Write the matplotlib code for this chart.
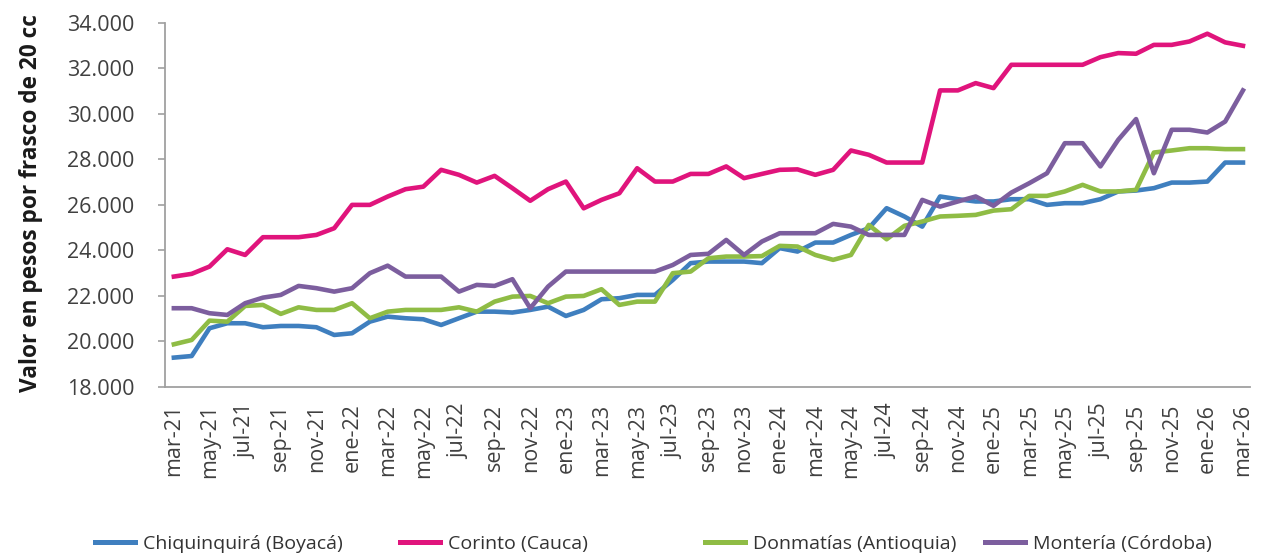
import matplotlib
matplotlib.use("Agg")
import matplotlib.pyplot as plt
from matplotlib.lines import Line2D
from matplotlib.ticker import FuncFormatter

plt.rcParams['font.family'] = ['Open Sans', 'DejaVu Sans']

# meses de mar-21 a mar-26
meses = ['ene', 'feb', 'mar', 'abr', 'may', 'jun', 'jul', 'ago', 'sep', 'oct', 'nov', 'dic']
fechas = []
for k in range(61):
    m = (2 + k) % 12
    a = 21 + (2 + k) // 12
    fechas.append(f'{meses[m]}-{a}')

chiquinquira = [19290, 19360, 20580, 20800, 20800, 20625, 20680, 20680, 20625, 20285,
                20360, 20870, 21090, 21020, 20975, 20725, 21020, 21310, 21310, 21270,
                21385, 21530, 21120, 21385, 21855, 21900, 22045, 22045, 22700, 23440,
                23510, 23510, 23510, 23440, 24100, 23950, 24345, 24345, 24680, 24975,
                25855, 25490, 25045, 26370, 26250, 26150, 26150, 26250, 26250, 26000,
                26075, 26075, 26250, 26590, 26630, 26735, 26980, 26980, 27025, 27860,
                27860]

corinto = [22850, 22970, 23290, 24050, 23800, 24580, 24580, 24580, 24680, 24975,
           26000, 26000, 26366, 26690, 26800, 27540, 27320, 26980, 27275, 26735,
           26180, 26690, 27025, 25850, 26220, 26510, 27610, 27025, 27025, 27360,
           27360, 27690, 27175, 27360, 27540, 27560, 27320, 27540, 28390, 28200,
           27860, 27860, 27860, 31030, 31030, 31350, 31130, 32155, 32155, 32155,
           32155, 32155, 32490, 32670, 32640, 33030, 33030, 33180, 33520, 33140,
           32990]

donmatias = [19875, 20065, 20915, 20870, 21560, 21605, 21210, 21500, 21385, 21385,
             21680, 21020, 21310, 21385, 21385, 21385, 21500, 21310, 21750, 21970,
             22000, 21680, 21970, 22000, 22295, 21605, 21750, 21750, 23000, 23070,
             23655, 23730, 23730, 23750, 24200, 24170, 23800, 23585, 23800, 25120,
             24490, 25080, 25270, 25490, 25520, 25560, 25750, 25810, 26395, 26395,
             26590, 26880, 26590, 26590, 26660, 28300, 28390, 28490, 28490, 28450,
             28450]

monteria = [21460, 21460, 21240, 21165, 21680, 21925, 22045, 22440, 22340, 22190,
            22340, 23000, 23330, 22850, 22850, 22850, 22190, 22485, 22440, 22735,
            21460, 22410, 23070, 23070, 23070, 23070, 23070, 23070, 23360, 23800,
            23850, 24460, 23800, 24390, 24755, 24755, 24755, 25165, 25045, 24680,
            24680, 24680, 26220, 25925, 26150, 26370, 25960, 26540, 26950, 27390,
            28710, 28710, 27690, 28860, 29770, 27390, 29300, 29300, 29180, 29660,
            31030]

series = [
    ('Chiquinquirá (Boyacá)', chiquinquira, '#3f7fbf'),
    ('Corinto (Cauca)', corinto, '#e0147c'),
    ('Donmatías (Antioquia)', donmatias, '#8fbc45'),
    ('Montería (Córdoba)', monteria, '#7c5e9e'),
]

fig = plt.figure(figsize=(12.64, 5.56), dpi=100)
ax = fig.add_axes([0.1305, 0.304, 0.8585, 0.655])

x = list(range(len(fechas)))
for nombre, vals, color in series:
    ax.plot(x, vals, color=color, lw=3.3, label=nombre)

ax.set_xlim(-0.5, 60.4)
ax.set_ylim(18000, 34000)
ax.set_yticks(range(18000, 34001, 2000))
ax.yaxis.set_major_formatter(FuncFormatter(lambda v, p: f'{int(v):,}'.replace(',', '.')))
ax.set_xticks(x[::2])
ax.set_xticklabels(fechas[::2], rotation=90, fontsize=15.5, color='#404040')
ax.tick_params(axis='y', labelsize=15.5, labelcolor='#404040', length=5, width=1.2,
               color='#a0a0a0', pad=17)
ax.tick_params(axis='x', length=0, pad=12)

for s in ['top', 'right']:
    ax.spines[s].set_visible(False)
for s in ['left', 'bottom']:
    ax.spines[s].set_color('#a0a0a0')
    ax.spines[s].set_linewidth(1.3)

ax.set_ylabel('Valor en pesos por frasco de 20 cc', fontsize=16.3, fontweight='bold',
              color='#1a1a1a')
ax.yaxis.set_label_coords(-0.112, 0.505)

# leyenda: una entrada por posición, repartidas a lo ancho
pos_x = [95, 400, 705, 985]
for (nombre, vals, color), px in zip(series, pos_x):
    h = Line2D([], [], color=color, lw=3.6)
    fig.legend([h], [nombre], loc='center left', bbox_to_anchor=(px / 1264, 0.022),
               frameon=False, fontsize=14, handlelength=2.05, handletextpad=0.4,
               borderpad=0, borderaxespad=0, labelcolor='#333333')

fig.savefig('out.png', dpi=100)
